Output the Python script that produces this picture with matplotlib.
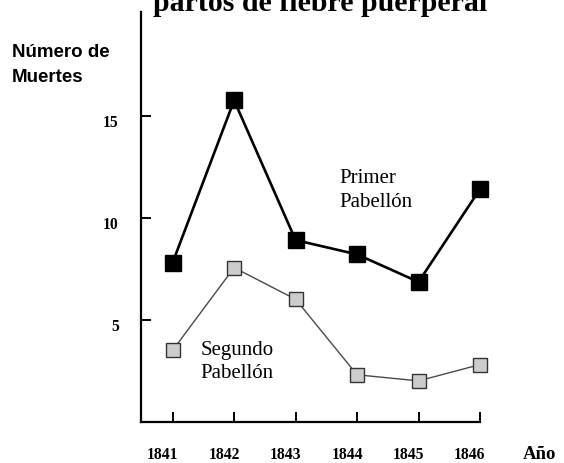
import matplotlib
matplotlib.use("Agg")
import matplotlib.pyplot as plt
import matplotlib.transforms as mtransforms

years = [1841, 1842, 1843, 1844, 1845, 1846]
primer = [7.8, 15.75, 8.9, 8.2, 6.85, 11.4]
segundo = [3.5, 7.55, 6.0, 2.3, 2.0, 2.8]
yticks = [5, 10, 15]
xticklabels = ["1841", "1842", "1843", "1844", "1845", "1846"]

W, H = 564, 463
fig = plt.figure(figsize=(W / 100, H / 100), dpi=100)
ax = fig.add_axes([141 / W, 1 - 421.7 / H, (480 - 141) / W, (421.7 - 12) / H])

ax.plot(years, segundo, color="#4a4a4a", lw=1.0, marker="s", ms=10.5,
        mfc="#cccccc", mec="#333333", mew=1.0, clip_on=False, zorder=3)
ax.plot(years, primer, color="black", lw=1.9, marker="s", ms=11.5,
        mfc="black", mec="black", clip_on=False, zorder=4)

ax.set_xlim(1840.485, 1846.0)
ax.set_ylim(0, 20.08)
for s in ["top", "right"]:
    ax.spines[s].set_visible(False)
for s in ["left", "bottom"]:
    ax.spines[s].set_linewidth(1.6)

ax.set_xticks(years)
ax.set_xticklabels(xticklabels, fontfamily="Liberation Serif", fontweight="bold", fontsize=11.3)
ax.set_yticks(yticks)
ax.set_yticklabels([str(v) for v in yticks], fontfamily="Liberation Serif", fontweight="bold", fontsize=11.3)
ax.tick_params(axis="x", direction="in", length=7, width=1.4, pad=18)
ax.tick_params(axis="y", direction="in", length=7, width=1.4, pad=16)

dx = mtransforms.ScaledTranslation(-10 / 100, 0, fig.dpi_scale_trans)
for lab in ax.get_xticklabels():
    lab.set_transform(lab.get_transform() + dx)
dy = mtransforms.ScaledTranslation(0, -5.5 / 100, fig.dpi_scale_trans)
for lab in ax.get_yticklabels():
    lab.set_transform(lab.get_transform() + dy)

def fx(px):
    return px / W

def fy(py):
    return 1 - py / H

serif = "Liberation Serif"
fig.text(fx(339), fy(183.3), "Primer", fontfamily=serif, fontsize=15, va="baseline", ha="left")
fig.text(fx(339), fy(206.7), "Pabellón", fontfamily=serif, fontsize=15, va="baseline", ha="left")
fig.text(fx(200.7), fy(355), "Segundo", fontfamily=serif, fontsize=15, va="baseline", ha="left")
fig.text(fx(200.7), fy(378.3), "Pabellón", fontfamily=serif, fontsize=15, va="baseline", ha="left")

fig.text(fx(523), fy(459), "Año", fontfamily=serif, fontweight="bold", fontsize=13.5, va="baseline", ha="left")
fig.text(fx(11.7), fy(56.7), "Número de", fontfamily="Liberation Sans", fontweight="bold", fontsize=13.5, va="baseline", ha="left")
fig.text(fx(11.7), fy(81.7), "Muertes", fontfamily="Liberation Sans", fontweight="bold", fontsize=13.5, va="baseline", ha="left")

fig.text(fx(153), fy(11), "partos de fiebre puerperal", fontfamily=serif, fontweight="bold",
         fontsize=21.5, va="baseline", ha="left")

fig.savefig("out.png", dpi=100)
